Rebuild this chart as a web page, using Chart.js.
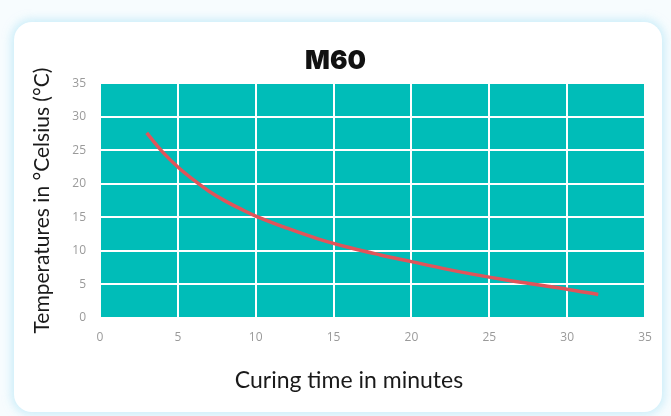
<!DOCTYPE html>
<html>
<head>
<meta charset="utf-8">
<script src="https://cdn.jsdelivr.net/npm/chart.js@4"></script>
<style>
  html, body { margin: 0; padding: 0; background: #f7fcfe; }
  #card {
    position: absolute; left: 14px; top: 22px; width: 648px; height: 390px;
    background: #fff; border-radius: 18px;
    box-shadow: 0 0 8px 3px rgba(170, 225, 245, 0.55);
  }
  #wrap { position: absolute; left: 0; top: 0; width: 671px; height: 416px; }
</style>
</head>
<body>
<div id="card"></div>
<div id="wrap"><canvas id="curingChart" width="671" height="416"></canvas></div>
<script>
// Curing time (minutes) vs temperature (°C)
const minutes = [3, 4, 5, 6, 7, 8, 9, 10, 12, 14, 16, 18, 20, 22, 24, 26, 28, 30, 32];
const temps = [27.6, 24.8, 22.5, 20.6, 18.9, 17.5, 16.3, 15.2, 13.4, 11.8, 10.5, 9.4, 8.4, 7.4, 6.5, 5.7, 5.0, 4.3, 3.5];
const axisMin = 0;
const axisMax = 35;
const axisStep = 5;

const points = minutes.map((m, i) => ({ x: m, y: temps[i] }));

// fill the plot area teal before grid lines are drawn
const plotBackground = {
    id: 'plotBackground',
    beforeDraw(chart) {
        const { ctx, chartArea } = chart;
        ctx.save();
        ctx.fillStyle = '#00bdb8';
        ctx.fillRect(chartArea.left, chartArea.top, chartArea.right - chartArea.left, chartArea.bottom - chartArea.top);
        ctx.restore();
    }
};

const ctx = document.getElementById('curingChart').getContext('2d');
new Chart(ctx, {
    type: 'line',
    data: {
        datasets: [{
            label: 'M60',
            data: points,
            borderColor: '#e0545a',
            borderWidth: 3.5,
            pointRadius: 0,
            tension: 0.4,
            fill: false
        }]
    },
    options: {
        responsive: false,
        animation: false,
        layout: { padding: { left: 26, right: 26, top: 0, bottom: 18 } },
        plugins: {
            legend: { display: false },
            tooltip: { enabled: false },
            title: {
                display: true,
                text: 'M60',
                color: '#111',
                font: { family: 'Inter', size: 26, weight: '900' },
                padding: { top: 46, bottom: 6 }
            }
        },
        scales: {
            x: {
                type: 'linear',
                min: axisMin,
                max: axisMax,
                ticks: { stepSize: axisStep, color: '#9a9a9a', font: { family: 'Open Sans', size: 12 }, padding: 12 },
                grid: { color: '#ffffff', lineWidth: 2, drawTicks: false },
                border: { display: false },
                title: {
                    display: true,
                    // trailing spaces nudge the centred title a little left, as in the original
                    text: 'Curing time in minutes        ',
                    color: '#1a1a1a',
                    font: { family: 'Lato', size: 23 },
                    padding: { top: 18 }
                },
                afterFit(scale) { scale.height = 80; }
            },
            y: {
                min: axisMin,
                max: axisMax,
                ticks: { stepSize: axisStep, color: '#9a9a9a', font: { family: 'Open Sans', size: 12 }, padding: 14 },
                grid: { color: '#ffffff', lineWidth: 2, drawTicks: false },
                border: { display: false },
                title: {
                    display: true,
                    text: 'Temperatures in °Celsius (°C)',
                    color: '#1a1a1a',
                    font: { family: 'Lato', size: 21 },
                    padding: { bottom: 12 }
                },
                afterFit(scale) { scale.width = 74; }
            }
        }
    },
    plugins: [plotBackground]
});
</script>
</body>
</html>
